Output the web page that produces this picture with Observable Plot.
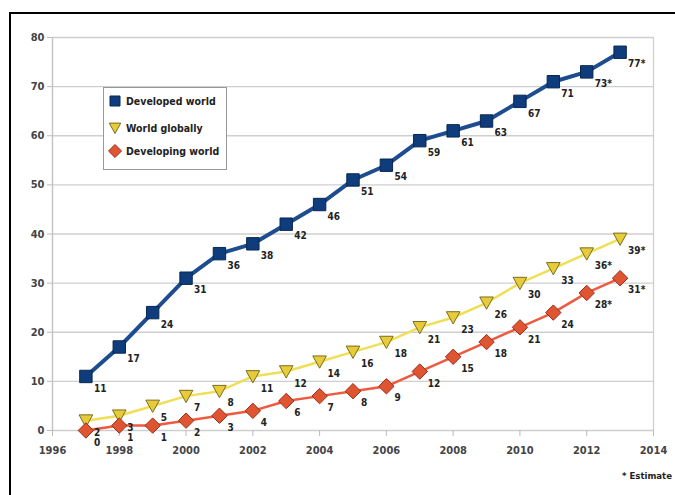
<!DOCTYPE html>
<html>
<head>
<meta charset="utf-8">
<script src="https://cdn.jsdelivr.net/npm/d3@7"></script>
<script src="https://cdn.jsdelivr.net/npm/@observablehq/plot@0.6"></script>
<style>
  html, body { margin: 0; padding: 0; background: #fff; overflow: hidden; width: 675px; height: 495px; }
  #frame { position: absolute; left: 9px; top: 12px; width: 700px; height: 520px; border: 2px solid #000; box-sizing: border-box; }
  #chart { position: absolute; left: 0; top: 0; }
  .lbl { font-family: "DejaVu Sans Condensed", "Liberation Sans Narrow", "DejaVu Sans", sans-serif; font-weight: bold; font-stretch: condensed; }
  #legend { position: absolute; left: 103px; top: 87px; width: 124px; height: 83px; border: 1px solid #999; background: #fff; box-sizing: border-box; font-size: 10.5px; color: #222; }
  #legend .item { position: absolute; left: 4px; display: flex; align-items: center; }
  #legend .item svg { margin-right: 4px; }
  #note { position: absolute; right: 3px; top: 470px; font-size: 9.5px; color: #222; }
</style>
</head>
<body>
<div id="chart"></div>
<div id="frame"></div>
<div id="legend" class="lbl"></div>
<div id="note" class="lbl">* Estimate</div>
<script>
const years = [1997, 1998, 1999, 2000, 2001, 2002, 2003, 2004, 2005, 2006, 2007, 2008, 2009, 2010, 2011, 2012, 2013];
const developed = [11, 17, 24, 31, 36, 38, 42, 46, 51, 54, 59, 61, 63, 67, 71, 73, 77];
const globally = [2, 3, 5, 7, 8, 11, 12, 14, 16, 18, 21, 23, 26, 30, 33, 36, 39];
const developing = [0, 1, 1, 2, 3, 4, 6, 7, 8, 9, 12, 15, 18, 21, 24, 28, 31];
const estimateYears = [2012, 2013];
const seriesNames = ["Developed world", "World globally", "Developing world"];
const xTicks = [1996, 1998, 2000, 2002, 2004, 2006, 2008, 2010, 2012, 2014];
const yTicks = [0, 10, 20, 30, 40, 50, 60, 70, 80];

const FONT = '"DejaVu Sans Condensed", "Liberation Sans Narrow", "DejaVu Sans", sans-serif';

const triangleDown = {
  draw(ctx, size) {
    const s = Math.sqrt(size) * 0.55;
    ctx.moveTo(-s, -s * 0.85);
    ctx.lineTo(s, -s * 0.85);
    ctx.lineTo(0, s * 0.95);
    ctx.closePath();
  }
};
const diamond = {
  draw(ctx, size) {
    const s = Math.sqrt(size) * 0.62;
    ctx.moveTo(0, -s);
    ctx.lineTo(s, 0);
    ctx.lineTo(0, s);
    ctx.lineTo(-s, 0);
    ctx.closePath();
  }
};

function rows(values) {
  return years.map((year, i) => ({
    year,
    v: values[i],
    label: String(values[i]) + (estimateYears.includes(year) ? "*" : "")
  }));
}
const dev = rows(developed);
const glob = rows(globally);
const devg = rows(developing);

const styles = [
  {data: dev, line: "#1d4d8f", lw: 4, fill: "#0e3c7c", stroke: "#08284f", symbol: "square", r: 7},
  {data: glob, line: "#f0df55", lw: 2.5, fill: "#e6cc3a", stroke: "#7d6c1c", symbol: triangleDown, r: 7},
  {data: devg, line: "#ee5a40", lw: 2.5, fill: "#e05531", stroke: "#9c2c1c", symbol: diamond, r: 7}
];

const marks = [
  Plot.ruleY(yTicks, {stroke: "#cfcfcf", strokeWidth: 1.3}),
  Plot.ruleX([2014], {stroke: "#cfcfcf", strokeWidth: 1.3}),
  Plot.ruleX([1996], {y1: 0, y2: 80, stroke: "#c4c4c4", strokeWidth: 1.5}),
  Plot.axisY({ticks: yTicks, tickSize: 5, tickPadding: 3, stroke: "#bbb", fill: "#444", fontSize: 11, fontWeight: "bold", fontFamily: FONT, label: null}),
  Plot.axisX({ticks: xTicks, tickSize: 6, tickPadding: 10, tickFormat: d => String(d), stroke: "#bbb", fill: "#444", fontSize: 11, fontWeight: "bold", fontFamily: FONT, label: null})
];
for (const s of [styles[1], styles[2], styles[0]]) {
  marks.push(Plot.line(s.data, {x: "year", y: "v", stroke: s.line, strokeWidth: s.lw}));
}
for (const s of [styles[1], styles[2], styles[0]]) {
  marks.push(Plot.dot(s.data, {x: "year", y: "v", symbol: s.symbol, r: s.r, fill: s.fill, stroke: s.stroke, strokeWidth: 1}));
  marks.push(Plot.text(s.data, {x: "year", y: "v", text: "label", dx: 8, dy: 12, textAnchor: "start", fontSize: 10, fontWeight: "bold", fontFamily: FONT, fill: "#222"}));
}

const chart = Plot.plot({
  width: 675,
  height: 495,
  marginLeft: 52,
  marginRight: 22,
  marginTop: 37,
  marginBottom: 65,
  x: {domain: [1996, 2014], axis: null},
  y: {domain: [0, 80], axis: null},
  style: {background: "transparent", fontFamily: FONT},
  marks
});
document.getElementById("chart").appendChild(chart);

// legend
const legend = document.getElementById("legend");
const symFor = [d3.symbolSquare, triangleDown, diamond];
const tops = [6, 33, 56];
styles.forEach((s, i) => {
  const item = document.createElement("div");
  item.className = "item";
  item.style.top = tops[i] + "px";
  const svg = d3.create("svg").attr("width", 14).attr("height", 14);
  svg.append("path")
    .attr("transform", "translate(7,7)")
    .attr("d", d3.symbol(symFor[i], i === 0 ? 100 : 110)())
    .attr("fill", s.fill)
    .attr("stroke", s.stroke);
  item.appendChild(svg.node());
  const span = document.createElement("span");
  span.textContent = seriesNames[i];
  item.appendChild(span);
  legend.appendChild(item);
});
</script>
</body>
</html>
